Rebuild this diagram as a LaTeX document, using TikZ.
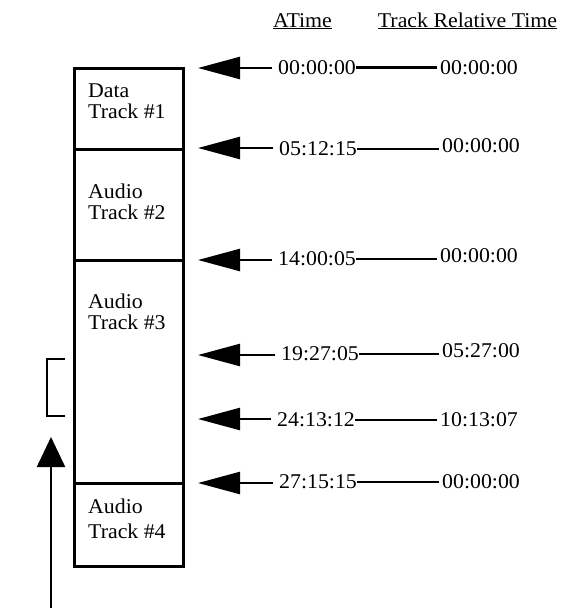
\documentclass[tikz,border=0pt]{standalone}
\usepackage{fontspec}
\setmainfont{Liberation Serif}[FakeStretch=1.04]
\usetikzlibrary{arrows.meta}
\begin{document}
\begin{tikzpicture}[x=1pt,y=-1pt,
  font=\fontsize{21}{21}\selectfont,
  lbl/.style={inner sep=0pt, anchor=west},
  trk/.style={inner sep=0pt, anchor=north west, align=left},
  hdr/.style={inner sep=0pt, anchor=base},
  ptr/.style={line width=2.4pt, -{Triangle[length=42pt,width=22pt]}},
  conn/.style={line width=2.4pt},
  boxline/.style={line width=3pt}]
\useasboundingbox (0,0) rectangle (560,608);
% headers
\node[hdr] (h1) at (302.5,27) {\underline{ATime}};
\node[hdr] (h2) at (467.5,27) {\underline{Track Relative Time}};
% track box
\draw[boxline] (74,68) rectangle (183,566);
\draw[boxline] (74,149) -- (183,149);
\draw[boxline] (74,260) -- (183,260);
\draw[boxline] (74,483) -- (183,483);
\node[trk] (t1) at (88,84) {Data\\Track \#1};
\node[trk] (t2) at (88,184) {Audio\\Track \#2};
\node[trk] (t3) at (88,294) {Audio\\Track \#3};
\node[trk] (t4) at (88,499) {Audio\\[4pt]Track \#4};
% arrow tips
\coordinate (p1) at (198,68);
\coordinate (p2) at (198,148);
\coordinate (p3) at (198,260);
\coordinate (p4) at (198,355);
\coordinate (p5) at (198,419);
\coordinate (p6) at (198,483);
% left times
\node[lbl] (a1) at (278,67.5) {00:00:00};
\node[lbl] (a2) at (279,149) {05:12:15};
\node[lbl] (a3) at (278,259) {14:00:05};
\node[lbl] (a4) at (281,354) {19:27:05};
\node[lbl] (a5) at (277,420) {24:13:12};
\node[lbl] (a6) at (279,482) {27:15:15};
% right times
\node[lbl] (r1) at (440,67.5) {00:00:00};
\node[lbl] (r2) at (442,146) {00:00:00};
\node[lbl] (r3) at (440,256) {00:00:00};
\node[lbl] (r4) at (442,351) {05:27:00};
\node[lbl] (r5) at (440,420) {10:13:07};
\node[lbl] (r6) at (442,482) {00:00:00};
\foreach \i in {1,...,6}{
  \draw[ptr] ([xshift=-6pt]a\i.west |- p\i) -- (p\i);
  \draw[conn] (a\i.east) -- ([xshift=-3pt]a\i.east -| r\i.west);
}
% bracket and up arrow
\coordinate (b1) at (65,359);
\coordinate (b2) at (65,416);
\draw[line width=2.4pt] (b1) -- ++(-18,0) |- (b2);
\coordinate (u0) at (51,608);
\coordinate (u1) at (51,437);
\draw[line width=2.4pt, -{Triangle[length=30pt,width=28pt]}] (u0) -- (u1);
\end{tikzpicture}
\end{document}
